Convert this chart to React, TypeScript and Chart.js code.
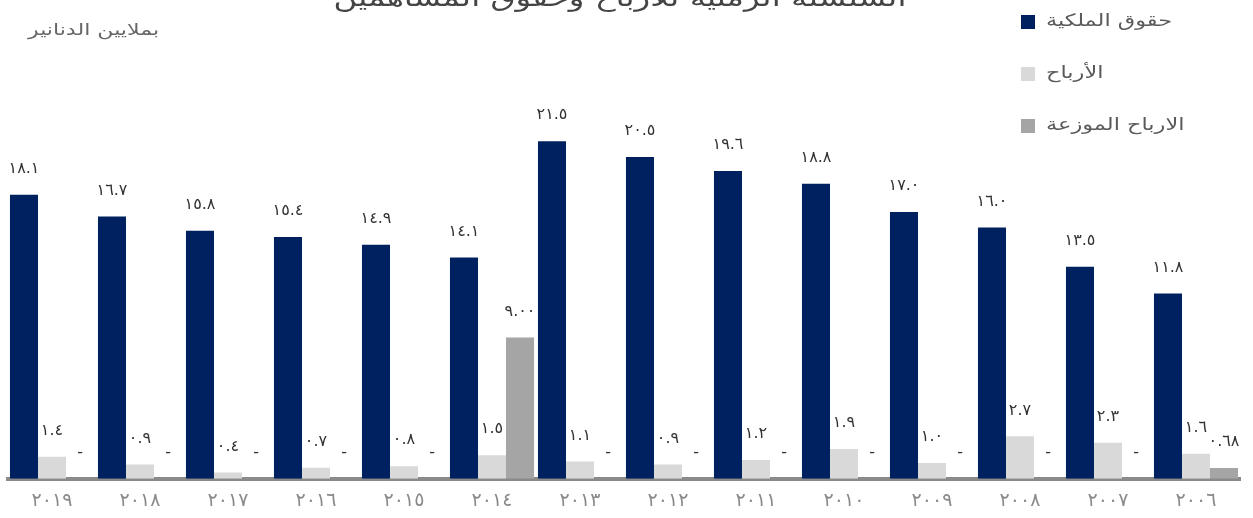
import React, { useEffect, useRef } from "react";
import { Chart, registerables } from "chart.js";

Chart.register(...registerables);

const years = [2019, 2018, 2017, 2016, 2015, 2014, 2013, 2012, 2011, 2010, 2009, 2008, 2007, 2006];
const equity = [18.1, 16.7, 15.8, 15.4, 14.9, 14.1, 21.5, 20.5, 19.6, 18.8, 17.0, 16.0, 13.5, 11.8];
const profits = [1.4, 0.9, 0.4, 0.7, 0.8, 1.5, 1.1, 0.9, 1.2, 1.9, 1.0, 2.7, 2.3, 1.6];
const distributed = [0, 0, 0, 0, 0, 9.0, 0, 0, 0, 0, 0, 0, 0, 0.68];
const decimals = [1, 1, 2];

const seriesNames = ["حقوق الملكية", "الأرباح", "الارباح الموزعة"];
const seriesColors = ["#00215f", "#d9d9d9", "#a5a5a5"];
const titleText = "السلسلة الزمنية للأرباح وحقوق المساهمين";
const unitText = "بملايين الدنانير";

const FONT = "'DejaVu Sans', sans-serif";
const arabicDigits = "٠١٢٣٤٥٦٧٨٩";
const toArabic = (s: string) => s.replace(/[0-9]/g, (d) => arabicDigits[Number(d)]);

function scaledText(ctx: CanvasRenderingContext2D, text: string, x: number, y: number, sx: number) {
  ctx.save();
  ctx.translate(x, y);
  ctx.scale(sx, 1);
  ctx.fillText(text, 0, 0);
  ctx.restore();
}

const labelPlugin = {
  id: "valueLabels",
  afterDatasetsDraw(chart: any) {
    const ctx = chart.ctx;
    ctx.save();
    ctx.font = `16px ${FONT}`;
    ctx.fillStyle = "#333";
    ctx.textAlign = "center";
    ctx.textBaseline = "middle";
    chart.data.datasets.forEach((ds: any, di: number) => {
      const meta = chart.getDatasetMeta(di);
      meta.data.forEach((el: any, i: number) => {
        const v = ds.data[i];
        const txt = v === 0 ? "-" : toArabic(v.toFixed(decimals[di]));
        ctx.fillText(txt, el.x, el.y - 26);
      });
    });
    ctx.restore();
  },
};

const overlayPlugin = {
  id: "overlay",
  afterDraw(chart: any) {
    const ctx = chart.ctx;
    ctx.save();
    ctx.textBaseline = "middle";
    // title
    ctx.font = `24px ${FONT}`;
    ctx.fillStyle = "#444";
    ctx.textAlign = "center";
    scaledText(ctx, titleText, 620, 0, 1.35);
    // unit
    ctx.font = `16px ${FONT}`;
    ctx.fillStyle = "#666";
    ctx.textAlign = "left";
    scaledText(ctx, unitText, 28, 31, 1.38);
    // legend
    ctx.font = `17px ${FONT}`;
    seriesNames.forEach((name, i) => {
      const y = 22 + i * 52;
      ctx.fillStyle = seriesColors[i];
      ctx.fillRect(1021, y - 7, 14, 14);
      ctx.fillStyle = "#5a5a5a";
      ctx.textAlign = "left";
      scaledText(ctx, name, 1046, y, 1.32);
    });
    ctx.restore();
  },
};

export default function App() {
  const ref = useRef<HTMLCanvasElement>(null);
  useEffect(() => {
    if (!ref.current) return;
    const chart = new Chart(ref.current, {
      type: "bar",
      data: {
        labels: years.map((y) => toArabic(String(y))),
        datasets: [equity, profits, distributed].map((d, i) => ({
          label: seriesNames[i],
          data: d,
          backgroundColor: seriesColors[i],
          borderWidth: 0,
          barPercentage: 1,
          categoryPercentage: 0.955,
        })),
      },
      options: {
        animation: false,
        responsive: false,
        maintainAspectRatio: false,
        layout: { padding: { left: 8, right: 13, top: 0, bottom: -5 } },
        plugins: { legend: { display: false }, title: { display: false }, tooltip: { enabled: false } },
        scales: {
          y: { display: false, min: 0, max: 30.5 },
          x: {
            grid: { display: false, drawTicks: false },
            border: { display: true, color: "#8a8a8a", width: 4 },
            ticks: { color: "#8a8a8a", font: { size: 19, family: FONT, lineHeight: 0.75 }, padding: 15, maxRotation: 0 },
          },
        },
      },
      plugins: [labelPlugin, overlayPlugin],
    });
    return () => chart.destroy();
  }, []);
  return (
    <div style={{ position: "absolute", left: 0, top: 0, width: 1253, height: 518 }}>
      <canvas ref={ref} width={1253} height={518} style={{ width: 1253, height: 518 }} />
    </div>
  );
}
